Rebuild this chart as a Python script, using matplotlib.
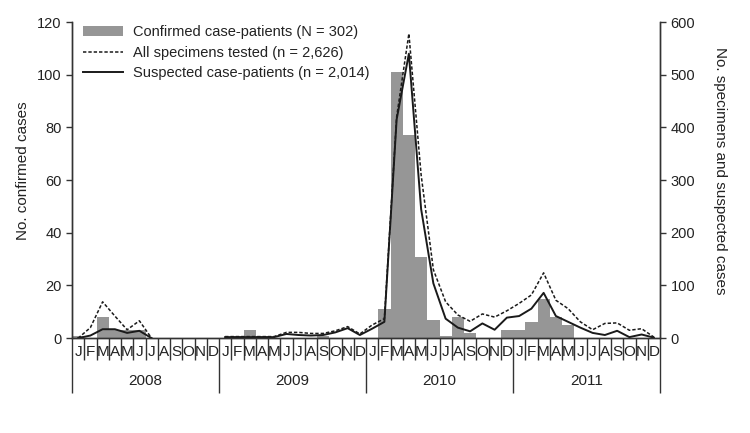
import numpy as np
import matplotlib.pyplot as plt
from matplotlib.transforms import blended_transform_factory

plt.rcParams['font.family'] = ['Liberation Sans', 'DejaVu Sans']

# Monthly data, Jan 2008 - Dec 2011
years = ['2008', '2009', '2010', '2011']
month_letters = ['J', 'F', 'M', 'A', 'M', 'J', 'J', 'A', 'S', 'O', 'N', 'D']

# confirmed case-patients (left axis)
confirmed = [1, 0, 8, 3, 3, 3, 0, 0, 0, 0, 0, 0,
             0, 1, 3, 1, 0, 0, 0, 0, 1, 0, 0, 0,
             0, 11, 101, 77, 31, 7, 1, 8, 2, 0, 0, 3,
             3, 6, 15, 8, 5, 0, 0, 0, 0, 0, 0, 0]

nan = np.nan
# all specimens tested (right axis)
all_specimens = [0, 20, 69, 42, 16, 33, 0, nan, nan, nan, nan, nan,
                 3, 3, 3, 3, 3, 11, 11, 9, 9, 14, 22, 8,
                 25, 37, 420, 578, 310, 130, 69, 44, 32, 46, 40, 52,
                 66, 82, 124, 72, 56, 31, 16, 28, 29, 15, 18, 2]

# suspected case-patients (right axis)
suspected = [0, 5, 17, 17, 10, 14, 0, nan, nan, nan, nan, nan,
             2, 2, 2, 2, 2, 8, 6, 5, 6, 11, 19, 6,
             18, 31, 415, 540, 245, 104, 37, 20, 13, 28, 16, 39,
             42, 56, 86, 42, 31, 20, 10, 6, 14, 2, 7, 1]

text_col = '#222222'
x = np.arange(len(confirmed))

fig, ax = plt.subplots(figsize=(7.5, 4.33), dpi=100)
fig.subplots_adjust(left=0.096, right=0.88, bottom=0.219, top=0.949)

ax.bar(x, confirmed, width=1.0, color='#969696', linewidth=0,
       label='Confirmed case-patients (N = 302)')
ax2 = ax.twinx()
ax2.plot(x, all_specimens, color='#1a1a1a', lw=1.1, ls=(0, (2.2, 1.3)),
         label='All specimens tested (n = 2,626)')
ax2.plot(x, suspected, color='#1a1a1a', lw=1.4,
         label='Suspected case-patients (n = 2,014)')

ax.set_xlim(-0.5, len(x) - 0.5)
ax.set_ylim(0, 120)
ax2.set_ylim(0, 600)
ax.set_yticks(range(0, 121, 20))
ax2.set_yticks(range(0, 601, 100))
ax.set_xticks([])
ax2.set_xticks([])

for a in (ax, ax2):
    a.spines['top'].set_visible(False)
    for s in a.spines.values():
        s.set_color('#333333')
        s.set_linewidth(1.0)
    a.tick_params(axis='y', direction='out', length=4, width=1,
                  labelsize=10.5, colors='#333333', labelcolor=text_col)

ax.set_ylabel('No. confirmed cases', fontsize=11, color=text_col)
ax2.set_ylabel('No. specimens and suspected cases', fontsize=11,
               color=text_col, rotation=270, va='bottom')
ax.yaxis.set_label_coords(-0.072, 0.53)
ax2.yaxis.set_label_coords(1.09, 0.53)

# month / year axis drawn below the plot
tr = blended_transform_factory(ax.transData, ax.transAxes)
for i in range(len(x) + 1):
    xb = i - 0.5
    low = -0.174 if i % 12 == 0 else -0.07
    ax.plot([xb, xb], [0, low], transform=tr, color='#333333', lw=1.0,
            clip_on=False, solid_capstyle='butt')
for i in range(len(x)):
    ax.text(i, -0.044, month_letters[i % 12], transform=tr, ha='center',
            va='center', fontsize=11, color=text_col)
for k, yr in enumerate(years):
    ax.text(12 * k + 5.5, -0.137, yr, transform=tr, ha='center',
            va='center', fontsize=11, color=text_col)

h1, l1 = ax.get_legend_handles_labels()
h2, l2 = ax2.get_legend_handles_labels()
leg = ax2.legend(h1 + h2, l1 + l2, loc='upper left',
                 bbox_to_anchor=(0.019, 0.99), frameon=False, fontsize=10.5,
                 borderpad=0, borderaxespad=0, handlelength=2.7,
                 handletextpad=0.75, labelspacing=0.45)
for t in leg.get_texts():
    t.set_color(text_col)

fig.savefig('out.png', dpi=100)
